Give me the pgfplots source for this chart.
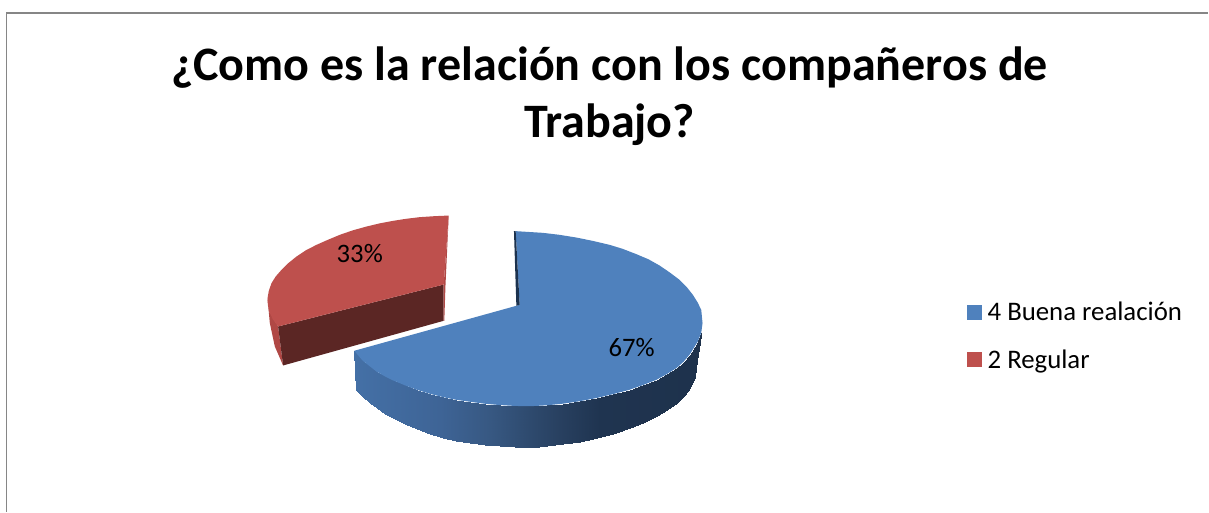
\documentclass[border=0pt]{standalone}
\usepackage{pgfplots}
\pgfplotsset{compat=1.18}
\usepackage{fontspec}
\setmainfont{Carlito}
\definecolor{pieblue}{RGB}{79,129,189}
\definecolor{piered}{RGB}{190,80,77}
\definecolor{reddark}{RGB}{91,38,36}
\definecolor{redside}{RGB}{176,72,69}
\definecolor{bluedark}{RGB}{28,50,78}
\definecolor{frameg}{RGB}{134,134,134}
\begin{document}
\begin{tikzpicture}
\begin{axis}[
  scale only axis, width=906.75pt, height=384pt,
  xmin=0, xmax=1209, ymin=0, ymax=512, y dir=reverse,
  hide axis, clip=false,
  point meta min=355, point meta max=703,
  colormap={side}{rgb255(0cm)=(68,112,166); rgb255(8.5cm)=(62,100,150); rgb255(13.5cm)=(55,88,130); rgb255(17.5cm)=(46,74,110); rgb255(20.5cm)=(40,64,96); rgb255(24.5cm)=(31,52,80); rgb255(34.8cm)=(30,50,76)},
  legend style={at={(axis cs:967,300)},anchor=north west,draw=none,fill=none,font=\fontsize{20.1pt}{22pt}\selectfont,
    row sep=17.2pt, inner sep=0pt, nodes={inner sep=1.5pt}},
  legend cell align=left,
  legend image code/.code={\fill[#1] (0pt,-5.6pt) rectangle (11.25pt,5.6pt); \path (14.25pt,0pt);},
]
% page extent
\addplot[draw=none,forget plot] coordinates {(0,0) (1209,512)};
% frame
\addplot[frameg,line width=1.2pt,forget plot] coordinates {(6.5,512) (6.5,13) (1209,13)};
% blue side
\addplot[patch,patch type=rectangle,shader=interp,point meta=x,forget plot] coordinates {
(354.5,351) (363,361) (363,397) (356,390)
(363,361) (370,366.5) (370,403.3) (363,397)
(370,366.5) (377,372) (377,408.5) (370,403.3)
(377,372) (385,376.5) (385,414) (377,408.5)
(385,376.5) (393,380.5) (393,418.5) (385,414)
(393,380.5) (405,385.5) (405,424.5) (393,418.5)
(405,385.5) (417,390) (417,429.3) (405,424.5)
(417,390) (430,394) (430,434) (417,429.3)
(430,394) (443,397.3) (443,438.3) (430,434)
(443,397.3) (456,400) (456,441) (443,438.3)
(456,400) (470,402) (470,443.3) (456,441)
(470,402) (485,404) (485,445.3) (470,443.3)
(485,404) (500,405.3) (500,446.7) (485,445.3)
(500,405.3) (515,406.2) (515,447.7) (500,446.7)
(515,406.2) (530,406.5) (530,448) (515,447.7)
(530,406.5) (547,405.6) (547,446.5) (530,448)
(547,405.6) (563,404) (563,444.3) (547,446.5)
(563,404) (580,401.5) (580,441.8) (563,444.3)
(580,401.5) (597,398.3) (597,438.3) (580,441.8)
(597,398.3) (613,394.5) (613,434) (597,438.3)
(613,394.5) (630,390) (630,428.3) (613,434)
(630,390) (643,385.5) (643,423) (630,428.3)
(643,385.5) (657,380) (657,416.7) (643,423)
(657,380) (667,374.5) (667,410.5) (657,416.7)
(667,374.5) (677,368.3) (677,403.3) (667,410.5)
(677,368.3) (684,362) (684,396) (677,403.3)
(684,362) (690,355) (690,388.3) (684,396)
(690,355) (695,347) (695,377) (690,388.3)
(695,347) (698.3,341.7) (697.7,360) (695,377)
(698.3,341.7) (701.7,333) (700.5,343) (697.7,360)
};
% blue top
\addplot[fill=pieblue,draw=none] coordinates {
(516,231.3) (543.3,233) (560,235) (576.7,237.7) (593,241) (610,245) (623,249) (636.7,254.3) (649,259.5) (660,265.7) (670,272.5) (680,280) (687,287) (693.3,295) (698,302.5) (701.7,310) (703,323.3) (701.7,333) (698.3,341.7) (695,347) (690,355) (684,362) (677,368.3) (667,374.5) (657,380) (643,385.5) (630,390) (613,394.5) (597,398.3) (580,401.5) (563,404) (547,405.6) (530,406.5) (515,406.2) (500,405.3) (485,404) (470,402) (456,400) (443,397.3) (430,394) (417,390) (405,385.5) (393,380.5) (385,376.5) (377,372) (370,366.5) (363,361) (354.5,351) (516.7,306) (520,305) (516,231.3)};
% blue inner sliver
\addplot[fill=bluedark,draw=none,forget plot] coordinates {
(514.3,231.3) (516,231.3) (520,305) (516.7,306) (514.3,231.3)};
% red outer side
\addplot[fill=redside,draw=none,forget plot] coordinates {
(267.7,298.3) (269.3,311.7) (278.3,326.7) (283.3,365.7) (275,346.7) (270,323.3) (267.7,298.3)};
% red front wall
\addplot[fill=reddark,draw=none,forget plot] coordinates {
(278.3,326.7) (444,284.7) (444,321) (283.3,365.7) (278.3,326.7)};
% red right sliver
\addplot[fill=redside,draw=none,forget plot] coordinates {
(449,215.7) (445.8,285) (444.6,321) (444,321) (444,284.7) (449,215.7)};
% red top
\addplot[fill=piered,draw=none] coordinates {
(449,215.7) (435,216.3) (420,217.3) (406,219) (393.3,221) (380,223.5) (366.7,226.7) (353,230.5) (340,235) (328,240) (316.7,245) (306,250.5) (296.7,256.7) (288.5,263.3) (281.7,270) (276,276.5) (271.7,283.3) (269,291) (267.7,298.3) (268,305) (269.3,311.7) (273,319.5) (278.3,326.7) (444,284.7) (449,215.7)};
\addlegendentry{4 Buena realación}
\addlegendentry{2 Regular}
\node[font=\fontsize{20pt}{22pt}\selectfont] at (axis cs:360,254) {33\%};
\node[font=\fontsize{20pt}{22pt}\selectfont] at (axis cs:632,348) {67\%};
\node[font=\bfseries\fontsize{36.05pt}{43pt}\selectfont,align=center] at (axis cs:610,96) {¿Como es la relación con los compañeros de\\Trabajo?};
\end{axis}
\end{tikzpicture}
\end{document}
